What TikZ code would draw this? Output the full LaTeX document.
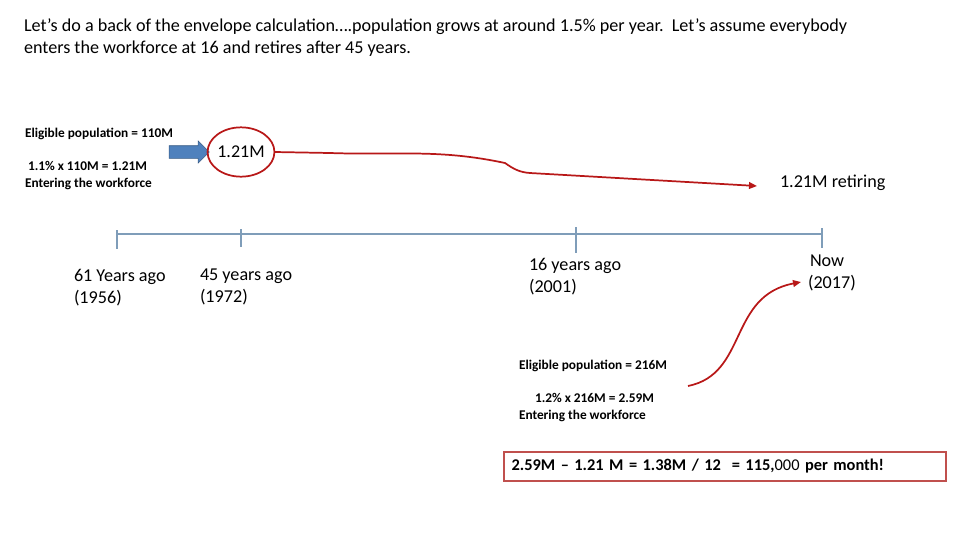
\documentclass[tikz,border=0pt]{standalone}
\usepackage{fontspec}
\setmainfont{Carlito}
\usetikzlibrary{positioning,arrows.meta,shapes.geometric,shapes.arrows}
\definecolor{linered}{HTML}{B81818}
\definecolor{axisblue}{HTML}{7F9DB9}
\definecolor{arrowblue}{HTML}{4F81BD}
\definecolor{boxred}{HTML}{C0504D}

\begin{document}
\begin{tikzpicture}[
    x=0.75pt, y=-0.75pt,
    every node/.style={inner sep=0pt, outer sep=0pt},
    note/.style={font=\fontsize{10}{12.75}\selectfont\bfseries, anchor=base west, align=left},
    lbl/.style={font=\fontsize{13.6}{16}\selectfont, anchor=base west, align=left},
    axis/.style={draw=axisblue, line width=0.8pt},
    redarr/.style={draw=linered, line width=1.3pt, -{Triangle[length=6pt,width=5pt]}}
]
\useasboundingbox (0,0) rectangle (960,540);

% heading
\node[lbl, font=\fontsize{13.6}{16.5}\selectfont] (title) at (24,53)
  {Let’s do a back of the envelope calculation….population grows at around 1.5\% per year.\ \ Let’s assume everybody\\
   enters the workforce at 16 and retires after 45 years.};

% entering 45 years ago
\node[note] (elig1) at (25,137) {Eligible population = 110M};
\node[note] (enter1) at (25,187) {\ 1.1\% x 110M = 1.21M\\Entering the workforce};
\node[single arrow, fill=arrowblue, draw=arrowblue!70!black, minimum height=30pt,
      inner sep=4.5pt, single arrow head extend=3.5pt] (push) at (186,152) {};
\node[ellipse, draw=linered, line width=1.3pt, minimum width=40.5pt, minimum height=37pt,
      font=\fontsize{13.5}{15}\selectfont] (cohort) at (241,152) {1.21M};
\node[lbl] (retire) at (780,187) {1.21M retiring};
\coordinate (retend) at (757,186);
\draw[redarr] (cohort.east) -- (330,153) to[out=-2,in=168] (505,163)
  to[out=-35,in=176] (530,173) -- (retend);

% timeline
\draw[axis] (117,234) -- (822,234);
\foreach \x/\ya/\yb in {117/230/249, 241/229/247, 576/227/253, 822/228/248}
  \draw[axis] (\x,\ya) -- (\x,\yb);

\node[lbl] (y1956) at (74,303) {61 Years ago\\(1956)};
\node[lbl] (y1972) at (200,302) {45 years ago\\(1972)};
\node[lbl] (y2001) at (529,292) {16 years ago\\(2001)};
\node[lbl] (y2017) at (808,288) {\hspace*{1.5pt}Now\\(2017)};

% entering now
\node[note] (elig2) at (519,369) {Eligible population = 216M};
\node[note] (enter2) at (519,419) {\hspace*{12pt}1.2\% x 216M = 2.59M\\Entering the workforce};
\coordinate (eligout) at (688,386);
\coordinate (nowin) at (801,282);
\draw[redarr] (eligout) .. controls (748,374) and (728,296) .. (nowin);

% result
\node[draw=boxred, line width=0.8pt, minimum width=331.5pt, minimum height=21.75pt,
      anchor=north west, text width=320pt, inner xsep=5pt,
      font=\fontsize{12.3}{14}\selectfont] (result) at (504,452)
  {\bfseries 2.59M – 1.21 M = 1.38M / 12\ \ = 115,\mdseries 000 \bfseries per month!};
\end{tikzpicture}
\end{document}
